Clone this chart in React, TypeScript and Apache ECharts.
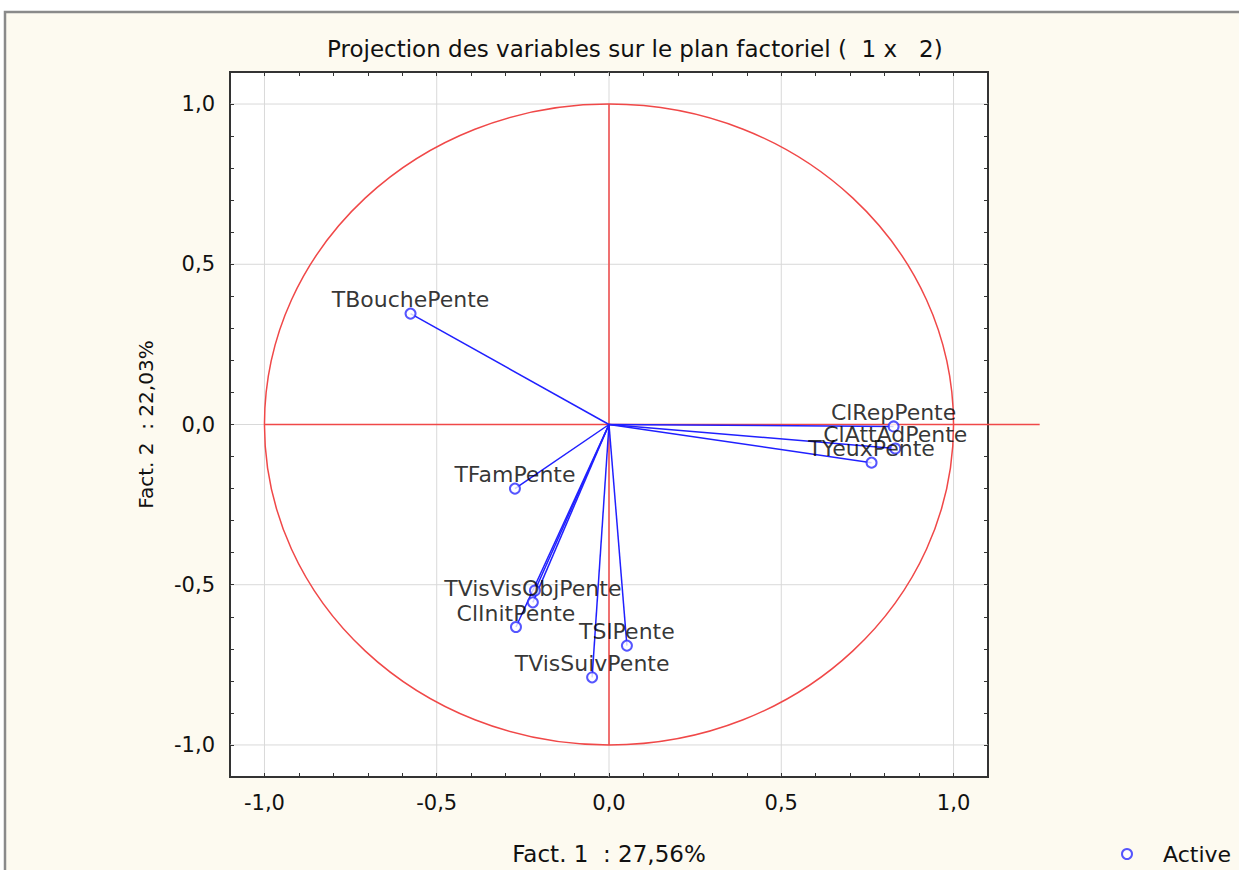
import React, { useEffect, useRef } from "react";
import * as echarts from "echarts";

const titleText = "Projection des variables sur le plan factoriel (  1 x   2)";
const xName = "Fact. 1  : 27,56%";
const yName = "Fact. 2  : 22,03%";
const legendName = "Active";

const varNames = [
  "TBouchePente",
  "TFamPente",
  "",
  "TVisVisObjPente",
  "ClInitPente",
  "TSlPente",
  "TVisSuivPente",
  "ClRepPente",
  "ClAttAdPente",
  "TYeuxPente",
];
const fact1 = [-0.576, -0.273, -0.215, -0.221, -0.27, 0.052, -0.049, 0.826, 0.831, 0.762];
const fact2 = [0.346, -0.2, -0.518, -0.555, -0.632, -0.69, -0.789, -0.006, -0.075, -0.119];

const majorTicks = [-1, -0.5, 0, 0.5, 1];
const tickLabels = ["-1,0", "-0,5", "0,0", "0,5", "1,0"];
const axisMin = -1.1;
const axisMax = 1.1;
const minorStep = 0.1;
// red reference axes: [x1, y1, x2, y2]
const refLines = [
  [-1, 0, 1.25, 0],
  [0, 1, 0, -1],
];
const circleRadius = 1;

const FONT = "DejaVu Sans";

function fmt(v: number) {
  const r = Math.round(v * 10);
  for (let i = 0; i < majorTicks.length; i++) {
    if (Math.round(majorTicks[i] * 10) === r) return tickLabels[i];
  }
  return "";
}

export default function App() {
  const ref = useRef<HTMLDivElement>(null);
  useEffect(() => {
    if (!ref.current) return;
    const chart = echarts.init(ref.current, null, { renderer: "svg" });
    const points = varNames.map((n, i) => ({ name: n, value: [fact1[i], fact2[i]] }));
    const tickStyle = { show: true, inside: true, length: 4, lineStyle: { color: "#333", width: 1 } };
    const baseAxis = {
      type: "value",
      min: axisMin,
      max: axisMax,
      interval: minorStep,
      splitLine: { show: false },
      axisLine: { show: false, onZero: false },
      axisTick: tickStyle,
    };
    const option: any = {
      animation: false,
      backgroundColor: "#ffffff",
      title: {
        text: titleText,
        left: 322,
        top: 32,
        textStyle: { fontFamily: FONT, fontSize: 23, fontWeight: "normal", color: "#111" },
      },
      legend: {
        data: [legendName],
        left: 1116,
        top: 838,
        icon: "emptyCircle",
        itemWidth: 10,
        itemHeight: 10,
        itemGap: 0,
        textStyle: { fontFamily: FONT, fontSize: 22, color: "#111", padding: [0, 0, 0, 26] },
      },
      graphic: [
        {
          type: "rect",
          z: -10,
          silent: true,
          shape: { x: 5, y: 12, width: 1300, height: 900 },
          style: { fill: "#fdfaf0", stroke: "#8a8a8a", lineWidth: 2.5 },
        },
      ],
      grid: {
        left: 230,
        top: 72,
        right: 251,
        bottom: 92,
        show: true,
        backgroundColor: "#ffffff",
        borderColor: "#333",
        borderWidth: 2,
      },
      xAxis: [
        {
          ...baseAxis,
          position: "bottom",
          name: xName,
          nameLocation: "middle",
          nameGap: 65,
          nameTextStyle: { fontFamily: FONT, fontSize: 23, color: "#111" },
          axisLabel: { show: true, formatter: fmt, margin: 15, fontFamily: FONT, fontSize: 21, color: "#111" },
        },
        { ...baseAxis, position: "top", axisLabel: { show: false } },
      ],
      yAxis: [
        {
          ...baseAxis,
          position: "left",
          name: yName,
          nameLocation: "middle",
          nameGap: 74,
          nameTextStyle: { fontFamily: FONT, fontSize: 20, color: "#111" },
          axisLabel: { show: true, formatter: fmt, margin: 15, fontFamily: FONT, fontSize: 21, color: "#111" },
        },
        { ...baseAxis, position: "right", axisLabel: { show: false } },
      ],
      series: [
        {
          type: "custom",
          name: "grid",
          silent: true,
          z: 0,
          data: majorTicks.map((t) => [t]),
          renderItem: (params: any, api: any) => {
            const t = api.value(0);
            const a = api.coord([t, axisMin]);
            const b = api.coord([t, axisMax]);
            const c = api.coord([axisMin, t]);
            const d = api.coord([axisMax, t]);
            const st = { stroke: "#d9d9d9", lineWidth: 1 };
            return {
              type: "group",
              children: [
                { type: "line", shape: { x1: a[0], y1: a[1], x2: b[0], y2: b[1] }, style: st },
                { type: "line", shape: { x1: c[0], y1: c[1], x2: d[0], y2: d[1] }, style: st },
              ],
            };
          },
        },
        {
          type: "custom",
          name: "ref",
          silent: true,
          z: 1,
          clip: false,
          data: [[0, 0]],
          renderItem: (params: any, api: any) => {
            const c = api.coord([0, 0]);
            const r = api.size([circleRadius, circleRadius]);
            const st = { stroke: "#f04848", lineWidth: 1.5, fill: "none" };
            const children: any[] = [
              { type: "ellipse", shape: { cx: c[0], cy: c[1], rx: r[0], ry: r[1] }, style: st },
            ];
            refLines.forEach((l) => {
              const p1 = api.coord([l[0], l[1]]);
              const p2 = api.coord([l[2], l[3]]);
              children.push({ type: "line", shape: { x1: p1[0], y1: p1[1], x2: p2[0], y2: p2[1] }, style: st });
            });
            return { type: "group", children };
          },
        },
        {
          type: "custom",
          name: "vectors",
          silent: true,
          z: 2,
          data: points.map((p) => p.value),
          renderItem: (params: any, api: any) => {
            const o = api.coord([0, 0]);
            const p = api.coord([api.value(0), api.value(1)]);
            return {
              type: "line",
              shape: { x1: o[0], y1: o[1], x2: p[0], y2: p[1] },
              style: { stroke: "#2020ff", lineWidth: 1.5 },
            };
          },
        },
        {
          type: "scatter",
          name: legendName,
          z: 3,
          symbol: "emptyCircle",
          symbolSize: 10,
          itemStyle: { color: "#2a2aff", borderWidth: 1.5 },
          data: points,
          label: {
            show: true,
            position: "top",
            distance: 0,
            offset: [0, 3],
            formatter: (p: any) => p.name,
            fontFamily: FONT,
            fontSize: 22,
            color: "#000",
          },
        },
      ],
    };
    chart.setOption(option);
    return () => chart.dispose();
  }, []);
  return (
    <div
      ref={ref}
      style={{ position: "absolute", left: 0, top: 0, width: 1239, height: 870 }}
    />
  );
}
